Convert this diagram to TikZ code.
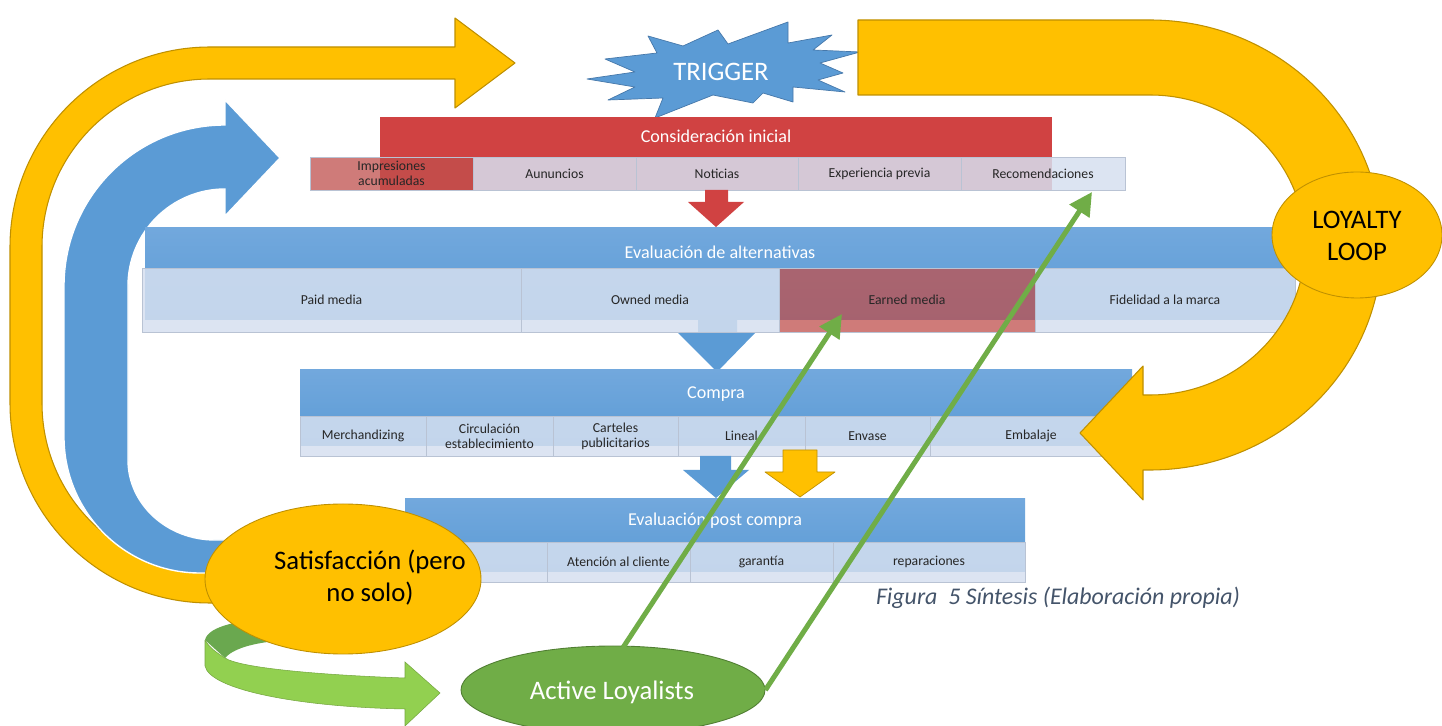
\documentclass[tikz,border=0pt]{standalone}
\usepackage{fontspec}
\setmainfont{Carlito}
\usepackage{tikz}
\usetikzlibrary{positioning,calc}
\usetikzlibrary{arrows.meta,shapes.geometric}
\definecolor{GoldFill}{RGB}{255,192,0}
\definecolor{GoldLine}{RGB}{191,144,0}
\definecolor{SkyBlue}{RGB}{91,155,213}
\definecolor{SkyTop}{RGB}{114,168,221}
\definecolor{SkyEdge}{RGB}{70,120,170}
\definecolor{StageRed}{RGB}{208,66,66}
\definecolor{CellBlue}{RGB}{214,224,240}
\definecolor{CellEdge}{RGB}{185,195,212}
\definecolor{CellRed}{RGB}{192,80,77}
\definecolor{LeafGreen}{RGB}{112,173,71}
\definecolor{LeafDark}{RGB}{80,126,50}
\definecolor{LimeGreen}{RGB}{146,208,80}
\definecolor{LimeBack}{RGB}{106,168,79}
\definecolor{CaptionInk}{RGB}{68,84,106}
\tikzset{
  goldarrow/.style={fill=GoldFill,draw=GoldLine,line width=0.6pt,line join=round},
  bluearrow/.style={fill=SkyBlue,draw=white,line width=0.8pt},
  redhead/.style={fill=StageRed},
  bluehead/.style={top color=SkyTop,bottom color=SkyBlue},
  headtxt/.style={text=white,font=\fontsize{10.3}{12}\selectfont,inner sep=0pt},
  cell/.style={draw=CellEdge,line width=0.4pt,fill=CellBlue,fill opacity=0.85,text opacity=1,
    inner sep=1pt,align=center,font=\fontsize{7.8}{8.6}\selectfont,text=black!85},
  redcell/.style={cell,fill=CellRed,fill opacity=0.75},
  bigtxt/.style={font=\fontsize{15.2}{18.2}\selectfont,align=center,inner sep=0pt},
  blob/.style={ellipse,fill=GoldFill,draw=GoldLine,line width=0.5pt,inner sep=0pt},
}
\tikzset{loyal/.style={draw=LeafGreen,line width=1mm,-{Triangle[length=4.6mm,width=4.6mm]}},
  captxt/.style={text=CaptionInk,font=\fontsize{13.6}{16}\selectfont\itshape,inner sep=0pt}}

\begin{document}
\begin{tikzpicture}[x=0.2mm,y=-0.2mm]
\useasboundingbox (0,0) rectangle (1442,726);
\fill[white] (0,0) rectangle (1442,726);
% outer loop, left side
\draw[goldarrow] (260,603) -- (210,603) arc[start angle=90,end angle=180,radius=200]
  -- (10,247) arc[start angle=180,end angle=270,radius=200] -- (455,47) -- (455,18)
  -- (515,63) -- (455,108) -- (455,79) -- (210,79) arc[start angle=270,end angle=180,radius=168]
  -- (42,403) arc[start angle=180,end angle=90,radius=168] -- (260,571) -- cycle;
\draw[bluearrow] (270,573) -- (200,573) arc[start angle=90,end angle=180,radius=136]
  -- (64,286) arc[start angle=180,end angle=270,radius=161] -- (225,100) -- (280,158)
  -- (225,216) -- (225,189) arc[start angle=270,end angle=180,radius=97]
  -- (128,460) arc[start angle=180,end angle=90,x radius=87,y radius=80] -- (270,540) -- cycle;
% trigger
\draw[fill=SkyBlue,draw=SkyEdge,line width=0.4pt,line join=round] (587,79) -- (635,72) -- (605,59)
  -- (657,53) -- (648,36) -- (683,46) -- (718,30) -- (728,44) -- (788,22) -- (788,43)
  -- (832,35) -- (813,50) -- (860,52) -- (820,63) -- (843,73) -- (818,80) -- (845,92)
  -- (793,87) -- (793,102) -- (763,93) -- (753,103) -- (713,95) -- (655,118) -- (663,98)
  -- (608,100) -- (635,87) -- cycle;
\node[bigtxt,text=white] (trig) at (721,72) {TRIGGER};
% consideracion inicial
\fill[redhead] (380,117) rectangle (1052,190);
\node[headtxt] (cons) at (716,136) {Consideración inicial};
\node[redcell,minimum width=32.6mm,minimum height=6.6mm] (impr) at (391.5,173.5) {Impresiones\\acumuladas};
\node[cell,minimum width=32.6mm,minimum height=6.6mm] (anun) at (554.5,173.5) {Aununcios};
\node[cell,minimum width=32.4mm,minimum height=6.6mm] (noti) at (717,173.5) {Noticias};
\node[cell,minimum width=32.6mm,minimum height=6.6mm] (expe) at (879.5,173.5) {Experiencia previa};
\node[cell,minimum width=32.8mm,minimum height=6.6mm] (reco) at (1043,173.5) {Recomendaciones};
\fill[StageRed] (705,190) -- (728,190) -- (728,202) -- (744,202) -- (716,227) -- (688,202) -- (705,202) -- cycle;
% evaluacion de alternativas
\fill[bluehead] (145,228) rectangle (1295,320);
\fill[SkyBlue] (698,320) -- (737,320) -- (737,333) -- (755,333) -- (717,372) -- (678,333) -- (698,333) -- cycle;
\node[headtxt] (alte) at (720,252) {Evaluación de alternativas};
\node[cell,minimum width=75.8mm,minimum height=12.8mm] (paid) at (331.5,300) {Paid media};
\node[cell,minimum width=51.6mm,minimum height=12.8mm] (owned) at (650,300) {Owned media};
\node[redcell,minimum width=51.2mm,minimum height=12.8mm] (earned) at (907,300) {Earned media};
\node[cell,minimum width=52mm,minimum height=12.8mm] (fide) at (1165,300) {Fidelidad a la marca};
% compra
\fill[bluehead] (300,370) rectangle (1132,446);
\node[headtxt] (comp) at (716,394) {Compra};
\node[cell,minimum width=25.2mm,minimum height=8mm] (merc) at (363,436) {Merchandizing};
\node[cell,minimum width=25.4mm,minimum height=8mm] (circ) at (489.5,436) {Circulación\\establecimiento};
\node[cell,minimum width=25mm,minimum height=8mm] (cart) at (615.5,436) {Carteles\\publicitarios};
\node[cell,minimum width=25.4mm,minimum height=8mm] (line) at (741.5,436) {Lineal};
\node[cell,minimum width=25mm,minimum height=8mm] (enva) at (867.5,436) {Envase};
\node[cell,minimum width=40.4mm,minimum height=8mm] (emba) at (1031,436) {Embalaje};
\fill[SkyBlue] (700,456) -- (731,456) -- (731,470) -- (749,470) -- (716,498) -- (683,470) -- (700,470) -- cycle;
\draw[goldarrow,line width=0.4pt] (783,450) -- (817,450) -- (817,472) -- (835,472) -- (800,497) -- (765,472) -- (783,472) -- cycle;
% evaluacion post compra
\fill[bluehead] (405,499) rectangle (1025,572);
\node[headtxt] (post) at (715,521) {Evaluación post compra};
\node[cell,minimum width=28.4mm,minimum height=8mm] (blank) at (476,562) {};
\node[cell,minimum width=28.6mm,minimum height=8mm] (aten) at (618.5,562) {Atención al cliente};
\node[cell,minimum width=28.6mm,minimum height=8mm] (gara) at (761.5,562) {garantía};
\node[cell,minimum width=38.4mm,minimum height=8mm] (repa) at (929,562) {reparaciones};
% loyalty loop
\draw[goldarrow] (858,20) -- (1150,20) arc[start angle=-90,end angle=90,x radius=232,y radius=225]
  -- (1143,470) -- (1143,500) -- (1080,433) -- (1143,366) -- (1143,395) -- (1150,395)
  arc[start angle=90,end angle=-90,x radius=155,y radius=150] -- (858,95) -- cycle;
\node[blob,minimum width=34mm,minimum height=25.2mm] (loop) at (1357,235) {};
\node[bigtxt] (looptxt) at (1357,236) {LOYALTY\\LOOP};
% satisfaccion and active loyalists
\fill[LimeBack] (205,640) .. controls (208,626) and (240,619) .. (290,617) -- (290,640)
  .. controls (250,642) and (232,650) .. (225,658) -- cycle;
\draw[fill=LimeGreen,draw=LimeGreen!80!black,line width=0.3pt] (205,640) -- (205,666)
  .. controls (210,690) and (300,707) .. (405,709) -- (405,726) -- (440,693) -- (405,662)
  -- (405,678) .. controls (320,675) and (240,668) .. (225,658) .. controls (212,650) and (208,645) .. (205,640);
\node[blob,minimum width=55.2mm,minimum height=30mm] (sati) at (343,579) {};
\node[bigtxt] (satitxt) at (370,578) {Satisfacción (pero\\no solo)};
\coordinate (earnTip) at (842,314);
\coordinate (recoTip) at (1092,192);
\node[ellipse,fill=LeafGreen,draw=LeafDark,line width=0.5pt,minimum width=60.8mm,minimum height=17.6mm] (act) at (613,690) {};
\node[bigtxt,text=white] (acttxt) at (612,692) {Active Loyalists};
\draw[loyal] (act.north)++(10,2) -- (earnTip);
\draw[loyal] (act.east) -- (recoTip);
\node[captxt] (cap) at (1058,598) {Figura\ \ 5 Síntesis (Elaboración propia)};
\end{tikzpicture}
\end{document}
